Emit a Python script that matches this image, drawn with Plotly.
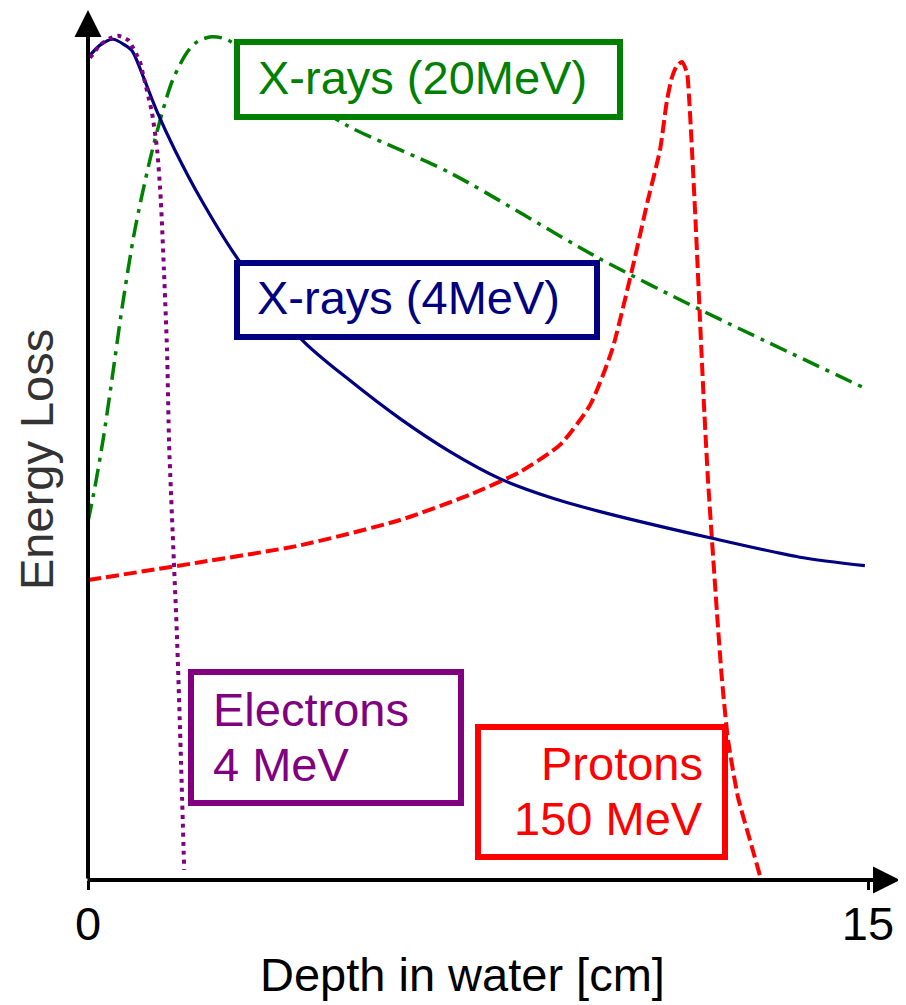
import plotly.graph_objects as go

# ---------------- data (depth in cm, energy loss in arbitrary units) ----------------
electron_depth = [0.04, 0.23, 0.42, 0.58, 0.77, 1.00, 1.06, 1.23, 1.33, 1.40, 1.46, 1.52, 1.56, 1.65, 1.71, 1.77, 1.85]
electron_loss = [97.3, 98.8, 99.6, 99.9, 99.4, 96.8, 95.3, 90.8, 86.4, 80.5, 72.2, 62.7, 51.5, 37.9, 29.0, 17.8, 1.2]

xray4_depth = [0.0, 0.23, 0.48, 0.71, 0.85, 1.06, 1.33, 1.67, 2.15, 2.87, 4.12, 5.04, 6.00, 6.96, 7.92, 8.88, 9.85, 11.96, 13.69, 14.94]
xray4_loss = [97.3, 98.8, 99.5, 98.8, 98.1, 95.1, 90.9, 86.4, 80.8, 73.6, 63.9, 59.1, 54.6, 50.7, 47.5, 45.3, 43.6, 40.5, 38.2, 37.2]

xray20_depth = [0.0, 0.13, 0.29, 0.46, 0.65, 0.90, 1.19, 1.44, 1.63, 1.90, 2.10, 2.38, 2.69, 3.88, 4.98, 6.96, 9.79, 11.77, 14.94]
xray20_loss = [42.4, 46.4, 52.1, 59.2, 67.5, 76.9, 85.2, 91.1, 94.7, 97.9, 99.2, 99.8, 99.4, 93.7, 89.3, 83.7, 73.7, 67.5, 58.2]

proton_depth = [0.0, 2.154, 4.077, 6.0, 7.346, 8.308, 9.077, 9.654, 10.077, 10.462, 10.769, 11.0, 11.135,
                11.231, 11.327, 11.423, 11.519, 11.558, 11.615, 11.692, 11.769, 11.846, 11.923, 12.0,
                12.096, 12.192, 12.308, 12.5, 12.731, 12.923]
proton_loss = [35.5, 37.6, 39.6, 42.6, 45.6, 48.3, 51.5, 56.2, 62.7, 72.2, 80.5, 86.4, 92.3,
               95.0, 96.4, 96.8, 95.5, 92.7, 86.4, 76.9, 66.3, 56.2, 47.3, 40.2,
               31.6, 23.7, 16.6, 9.8, 4.7, 0.5]

x_ticks = [0, 15]
x_tick_labels = ["0", "15"]
x_title = "Depth in water [cm]"
y_title = "Energy Loss"

# ---------------- layout helpers (page pixel -> paper) ----------------
# the page body has an 8px margin, so the figure is drawn from (8, 8)
OFF = 8
W, H = 906 - OFF, 1005 - OFF
LEFT, BOTTOM, TOP, RIGHT = 88, 880, 10, 903          # plot area edges in page pixels
ML, MT = LEFT - OFF, TOP - OFF
MR, MB = (W + OFF) - RIGHT, (H + OFF) - BOTTOM
PW, PH = RIGHT - LEFT, BOTTOM - TOP
X_PER_CM = 52.0
Y_PER_UNIT = 8.45


def PX(px):
    return (px - LEFT) / PW


def PY(py):
    return (BOTTOM - py) / PH


FONT = "Liberation Sans, Arial, sans-serif"
GREEN, NAVY, PURPLE, RED = "#008000", "#000080", "#800080", "#ff0000"

fig = go.Figure()
fig.add_trace(go.Scatter(x=xray20_depth, y=xray20_loss, mode="lines",
                         line=dict(color=GREEN, width=3.5, dash="18px,7px,4px,7px", shape="spline", smoothing=0.8),
                         name="X-rays (20MeV)"))
fig.add_trace(go.Scatter(x=proton_depth, y=proton_loss, mode="lines",
                         line=dict(color=RED, width=4, dash="13px,5px", shape="spline", smoothing=0.6),
                         name="Protons 150 MeV"))
fig.add_trace(go.Scatter(x=xray4_depth, y=xray4_loss, mode="lines",
                         line=dict(color=NAVY, width=3.2, shape="spline", smoothing=0.8),
                         name="X-rays (4MeV)"))
fig.add_trace(go.Scatter(x=electron_depth, y=electron_loss, mode="lines",
                         line=dict(color=PURPLE, width=4, dash="4px,5px", shape="spline", smoothing=0.6),
                         name="Electrons 4 MeV"))

shapes = []
boxes = [
    (237, 620, 42, 117, GREEN),
    (237, 597, 263, 337, NAVY),
    (191, 461, 672, 803, PURPLE),
    (478, 725, 727, 857, RED),
]
for x0, x1, y0, y1, c in boxes:
    shapes.append(dict(type="rect", xref="paper", yref="paper",
                       x0=PX(x0), x1=PX(x1), y0=PY(y1), y1=PY(y0),
                       line=dict(color=c, width=6), fillcolor="white", layer="above"))

annotations = []


def text(t, px, py, color, xanchor="left", size=47, angle=0):
    annotations.append(dict(text=t, xref="paper", yref="paper", x=PX(px), y=PY(py),
                            xanchor=xanchor, yanchor="middle", showarrow=False, textangle=angle,
                            font=dict(family=FONT, size=size, color=color)))


text("X-rays (20MeV)", 256, 77, GREEN)
text("X-rays (4MeV)", 255, 297, NAVY)
text("Electrons", 211, 709, PURPLE)
text("4 MeV", 211, 764, PURPLE)
text("Protons", 705, 763, RED, xanchor="right")
text("150 MeV", 705, 818, RED, xanchor="right")
text(x_title, 462, 974, "black", xanchor="center")
text(y_title, 37, 460, "#333333", xanchor="center", angle=-90)

# axis arrows (line + head)
annotations.append(dict(xref="paper", yref="paper", x=PX(88), y=PY(10), ax=0, ay=880 - 10,
                        axref="pixel", ayref="pixel", showarrow=True, arrowhead=2, arrowsize=1.35,
                        arrowwidth=4, arrowcolor="black", text=""))
annotations.append(dict(xref="paper", yref="paper", x=PX(900), y=PY(880), ax=-(900 - 86), ay=0,
                        axref="pixel", ayref="pixel", showarrow=True, arrowhead=2, arrowsize=1.35,
                        arrowwidth=4, arrowcolor="black", text=""))

fig.update_layout(
    width=W, height=H,
    margin=dict(l=ML, r=MR, t=MT, b=MB, pad=0),
    plot_bgcolor="white", paper_bgcolor="white",
    showlegend=False,
    shapes=shapes,
    annotations=annotations,
    xaxis=dict(range=[0, PW / X_PER_CM], showgrid=False, zeroline=False, showline=False,
               tickvals=x_ticks, ticktext=x_tick_labels, ticks="outside", ticklen=9, tickwidth=3,
               tickcolor="black", ticklabelstandoff=-6,
               tickfont=dict(family=FONT, size=47, color="black")),
    yaxis=dict(range=[0, PH / Y_PER_UNIT], showgrid=False, zeroline=False, showline=False,
               showticklabels=False, ticks=""),
)

fig.write_html("out.html")
